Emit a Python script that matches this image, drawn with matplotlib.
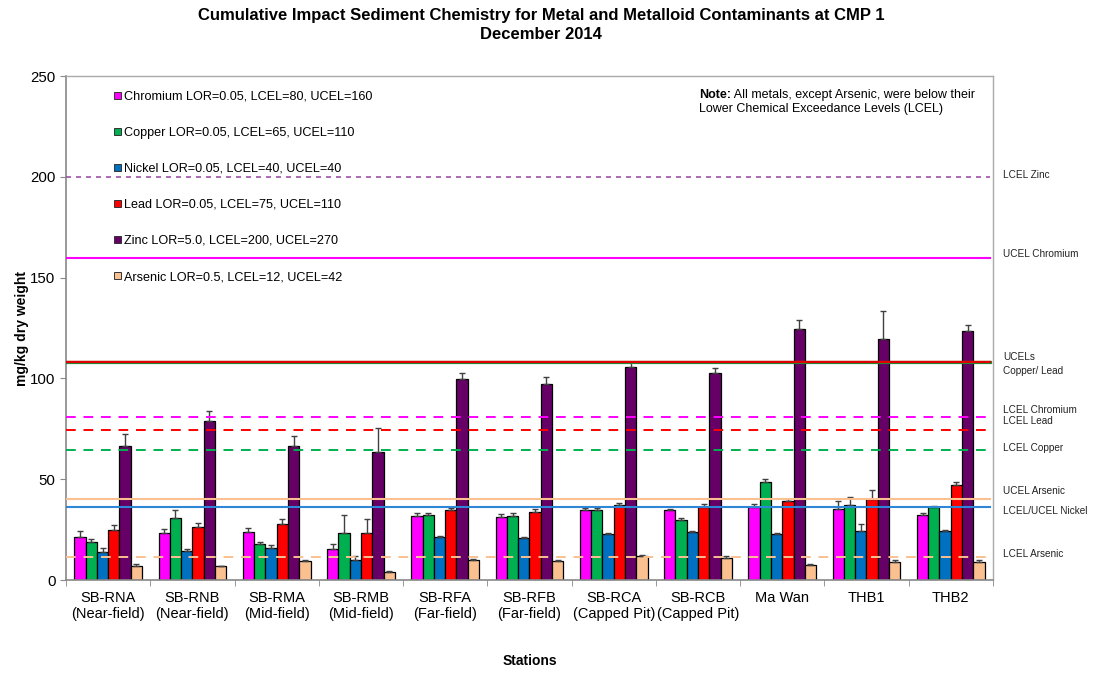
import numpy as np
import matplotlib.pyplot as plt
from matplotlib.patches import Patch

plt.rcParams['font.family'] = ['Liberation Sans', 'DejaVu Sans']

# station names and measured concentrations (mg/kg dry weight)
stations = ['SB-RNA\n(Near-field)', 'SB-RNB\n(Near-field)', 'SB-RMA\n(Mid-field)',
            'SB-RMB\n(Mid-field)', 'SB-RFA\n(Far-field)', 'SB-RFB\n(Far-field)',
            'SB-RCA\n(Capped Pit)', 'SB-RCB\n(Capped Pit)', 'Ma Wan', 'THB1', 'THB2']

chromium = [21.5, 23.6, 24.1, 15.4, 31.9, 31.3, 34.6, 34.6, 36.5, 35.2, 32.2]
chromium_err = [3.0, 1.7, 1.9, 2.6, 1.2, 1.6, 1.1, 0.9, 1.4, 4.0, 0.9]
copper = [18.7, 30.9, 17.7, 23.3, 32.2, 31.9, 34.9, 29.6, 48.6, 37.2, 36.2]
copper_err = [1.6, 3.7, 1.3, 9.1, 1.0, 1.5, 0.9, 1.2, 1.8, 4.1, 0.4]
nickel = [14.0, 14.4, 15.7, 9.8, 21.2, 20.7, 22.7, 23.8, 23.0, 24.6, 24.6]
nickel_err = [1.9, 0.8, 1.5, 2.3, 0.8, 0.8, 0.6, 0.5, 0.6, 3.0, 0.4]
lead = [24.8, 26.5, 27.6, 23.6, 34.7, 33.9, 37.4, 36.2, 39.0, 40.0, 47.1]
lead_err = [2.6, 1.9, 2.7, 6.7, 1.0, 1.3, 1.0, 1.5, 1.2, 4.8, 1.5]
zinc = [66.6, 78.7, 66.6, 63.5, 99.7, 97.4, 105.5, 102.7, 124.5, 119.5, 123.5]
zinc_err = [5.7, 5.0, 5.0, 11.7, 2.8, 3.3, 2.8, 2.6, 4.3, 13.9, 3.0]
arsenic = [6.8, 6.8, 9.3, 4.0, 9.9, 9.6, 12.1, 11.1, 7.6, 8.9, 9.1]
arsenic_err = [1.3, 0.2, 0.8, 0.5, 0.5, 0.4, 0.2, 0.8, 0.2, 1.0, 0.8]

series_labels = ['Chromium LOR=0.05, LCEL=80, UCEL=160',
                 'Copper LOR=0.05, LCEL=65, UCEL=110',
                 'Nickel LOR=0.05, LCEL=40, UCEL=40',
                 'Lead LOR=0.05, LCEL=75, UCEL=110',
                 'Zinc LOR=5.0, LCEL=200, UCEL=270',
                 'Arsenic LOR=0.5, LCEL=12, UCEL=42']
colors = ['#FF00FF', '#00B050', '#0070C0', '#FF0000', '#660066', '#FAC090']

# guideline levels as drawn on the chart
lcel_zinc = 200
ucel_chromium = 160
ucel_cu_pb = 108
lcel_chromium = 81
lcel_lead = 74.5
lcel_copper = 64.5
ucel_arsenic = 40
nickel_level = 36.5
lcel_arsenic = 11.5

values = [chromium, copper, nickel, lead, zinc, arsenic]
errors = [chromium_err, copper_err, nickel_err, lead_err, zinc_err, arsenic_err]

fig = plt.figure(figsize=(10.93, 6.73), dpi=100)
ax = fig.add_axes([0.0604, 0.138, 0.848, 0.749])

x = np.arange(len(stations))
w = 0.134
for i, (vals, errs) in enumerate(zip(values, errors)):
    pos = x + (i - 2.5) * w
    ax.bar(pos, vals, width=w, color=colors[i], edgecolor='black', linewidth=0.9, zorder=2)
    ax.errorbar(pos, vals, yerr=[np.zeros(len(errs)), errs], fmt='none',
                ecolor='#404040', elinewidth=1, capsize=2.5, capthick=1, zorder=3)

# guideline lines
ax.axhline(lcel_zinc, xmax=0.997, color='#A050A8', lw=1.2, ls=(0, (3, 3)), zorder=4)
ax.axhline(ucel_chromium, xmax=0.997, color='#FF00FF', lw=1.5, zorder=4)
ax.axhline(ucel_cu_pb, xmax=0.997, color='#00A040', lw=2.3, zorder=4)
ax.axhline(ucel_cu_pb, xmax=0.997, color='#E00000', lw=1.7, zorder=4)
ax.axhline(lcel_chromium, xmax=0.997, color='#FF00FF', lw=1.4, ls=(0, (5, 4)), zorder=4)
ax.axhline(lcel_lead, xmax=0.997, color='#FF0000', lw=1.4, ls=(0, (5, 4)), zorder=4)
ax.axhline(lcel_copper, xmax=0.997, color='#00B050', lw=1.4, ls=(0, (5, 4)), zorder=4)
ax.axhline(ucel_arsenic, xmax=0.997, color='#FAC090', lw=1.5, zorder=4)
ax.axhline(nickel_level, xmax=0.997, color='#2E86D6', lw=1.5, zorder=4)
ax.axhline(lcel_arsenic, xmax=0.997, color='#FAC090', lw=1.4, ls=(0, (5, 4)), zorder=4)

# labels to the right of the plot
rlab = [('LCEL Zinc', 201), ('UCEL Chromium', 161.7), ('UCELs\nCopper/ Lead', 107),
        ('LCEL Chromium', 84.3), ('LCEL Lead', 78.9), ('LCEL Copper', 65.5),
        ('UCEL Arsenic', 44.1), ('LCEL/UCEL Nickel', 34.2), ('LCEL Arsenic', 12.9)]
for txt, yy in rlab:
    ax.text(1.011, yy, txt, transform=ax.get_yaxis_transform(), fontsize=7.2,
            va='center', ha='left', color='#222222', clip_on=False, linespacing=1.5)

ax.set_xlim(-0.5, len(stations) - 0.5)
ax.set_ylim(0, 250)
ax.set_yticks([0, 50, 100, 150, 200, 250])
ax.tick_params(axis='y', labelsize=10.8, length=4, color='#888888', direction='out')
ax.set_xticks(x)
ax.set_xticklabels(stations, fontsize=10.5, linespacing=1.15)
ax.tick_params(axis='x', length=0, pad=8)
ax.set_xticks(np.arange(-0.5, len(stations)), minor=True)
ax.tick_params(axis='x', which='minor', length=4, color='#888888')
for s in ['left', 'bottom']:
    ax.spines[s].set_color('#888888')
    ax.spines[s].set_linewidth(1.2)
for s in ['top', 'right']:
    ax.spines[s].set_color('#AAAAAA')
    ax.spines[s].set_linewidth(1.0)

ax.set_ylabel('mg/kg dry weight', fontsize=10, fontweight='bold', labelpad=1)
ax.set_xlabel('Stations', fontsize=10, fontweight='bold', labelpad=24)

fig.suptitle('Cumulative Impact Sediment Chemistry for Metal and Metalloid Contaminants at CMP 1\nDecember 2014',
             fontsize=12, fontweight='bold', y=0.988, x=0.495, linespacing=1.3)

handles = [Patch(facecolor=c, edgecolor='#333333', linewidth=0.7) for c in colors]
ax.legend(handles, series_labels, loc='upper left', bbox_to_anchor=(0.045, 0.983),
          frameon=False, fontsize=9.1, handlelength=0.55, handleheight=0.55,
          handletextpad=0.25, labelspacing=1.9, borderpad=0)

note = ax.text(0.683, 0.975, 'Note:', transform=ax.transAxes, fontsize=9,
               fontweight='bold', va='top', ha='left')
ax.annotate(' All metals, except Arsenic, were below their', xy=(1, 1), xycoords=note,
            fontsize=9, va='top', ha='left')
ax.text(0.683, 0.947, 'Lower Chemical Exceedance Levels (LCEL)', transform=ax.transAxes,
        fontsize=9, va='top', ha='left')

plt.savefig('out.png', dpi=100)
